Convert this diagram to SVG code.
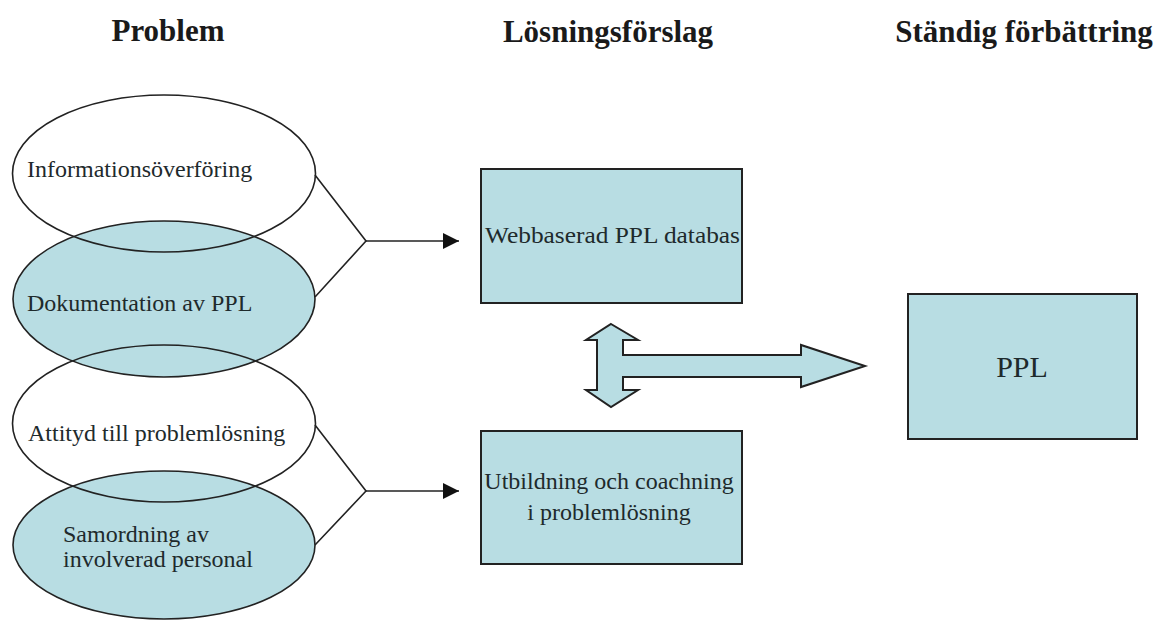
<svg xmlns="http://www.w3.org/2000/svg" width="1167" height="622" viewBox="0 0 1167 622">
  <style>
    .title { font-family: "Liberation Serif", "Times New Roman", serif; font-size: 31px; font-weight: bold; fill: #1a1a1a; text-anchor: middle; }
    .lbl { font-family: "Liberation Serif", "Times New Roman", serif; font-size: 24px; fill: #1e2a2c; }
    .mid { text-anchor: middle; }
    .blue { fill: #b8dde3; stroke: #222; stroke-width: 1.6; }
    .open { fill: none; stroke: #222; stroke-width: 1.6; }
    .box { fill: #b8dde3; stroke: #222; stroke-width: 2; }
    .wire { fill: none; stroke: #222; stroke-width: 1.6; }
  </style>
  <defs>
    <marker id="head" markerWidth="16" markerHeight="16" viewBox="0 0 16 16" refX="16" refY="8" orient="auto" markerUnits="userSpaceOnUse">
      <path d="M0,0 L16,8 L0,16 Z" fill="#111"/>
    </marker>
  </defs>

  <rect width="1167" height="622" fill="#fff"/>

  <!-- column headings -->
  <g id="headings">
    <text class="title" x="168" y="41">Problem</text>
    <text class="title" x="608" y="42">Lösningsförslag</text>
    <text class="title" x="1024" y="42">Ständig förbättring</text>
  </g>

  <!-- filled problem ellipses (drawn first so open outlines sit on top) -->
  <g id="dokumentation">
    <ellipse class="blue" cx="164" cy="299" rx="151" ry="78"/>
    <text class="lbl" x="27" y="311">Dokumentation av PPL</text>
  </g>
  <g id="samordning">
    <ellipse class="blue" cx="164" cy="545" rx="151" ry="74"/>
    <text class="lbl" x="63" y="542">Samordning av</text>
    <text class="lbl" x="63" y="567">involverad personal</text>
  </g>

  <!-- open problem ellipses -->
  <g id="information">
    <ellipse class="open" cx="164" cy="173.5" rx="151.5" ry="78.5"/>
    <text class="lbl" x="27" y="177">Informationsöverföring</text>
  </g>
  <g id="attityd">
    <ellipse class="open" cx="164" cy="423.5" rx="151.5" ry="78.5"/>
    <text class="lbl" x="28" y="441">Attityd till problemlösning</text>
  </g>

  <!-- solution boxes -->
  <g id="webbdatabas">
    <rect class="box" x="481" y="169" width="261" height="134"/>
    <text class="lbl" x="485" y="243" textLength="255" lengthAdjust="spacingAndGlyphs">Webbaserad PPL databas</text>
  </g>
  <g id="utbildning">
    <rect class="box" x="481" y="431" width="261" height="133"/>
    <text class="lbl mid" x="609" y="489">Utbildning och coachning</text>
    <text class="lbl mid" x="609" y="520">i problemlösning</text>
  </g>

  <!-- continuous improvement -->
  <g id="ppl">
    <rect class="box" x="908" y="294" width="229" height="145"/>
    <text class="lbl mid" x="1022" y="377" style="font-size:30px">PPL</text>
  </g>

  <!-- connectors -->
  <g id="connectors">
    <polyline class="wire" points="315,175 366,241 315,297"/>
    <line class="wire" x1="366" y1="241" x2="459" y2="241" marker-end="url(#head)"/>
    <polyline class="wire" points="315,425 366,491 315,545"/>
    <line class="wire" x1="366" y1="491" x2="459" y2="491" marker-end="url(#head)"/>
    <!-- double-headed vertical arrow joined to the arrow towards PPL -->
    <path class="box" stroke-width="1.6" stroke-linejoin="miter"
          d="M611,324 L638,340 L623,340 L623,355 L801,355 L801,345 L865,366 L801,387 L801,377 L623,377 L623,390 L638,390 L611,407 L586,390 L597,390 L597,340 L586,340 Z"/>
  </g>
</svg>
